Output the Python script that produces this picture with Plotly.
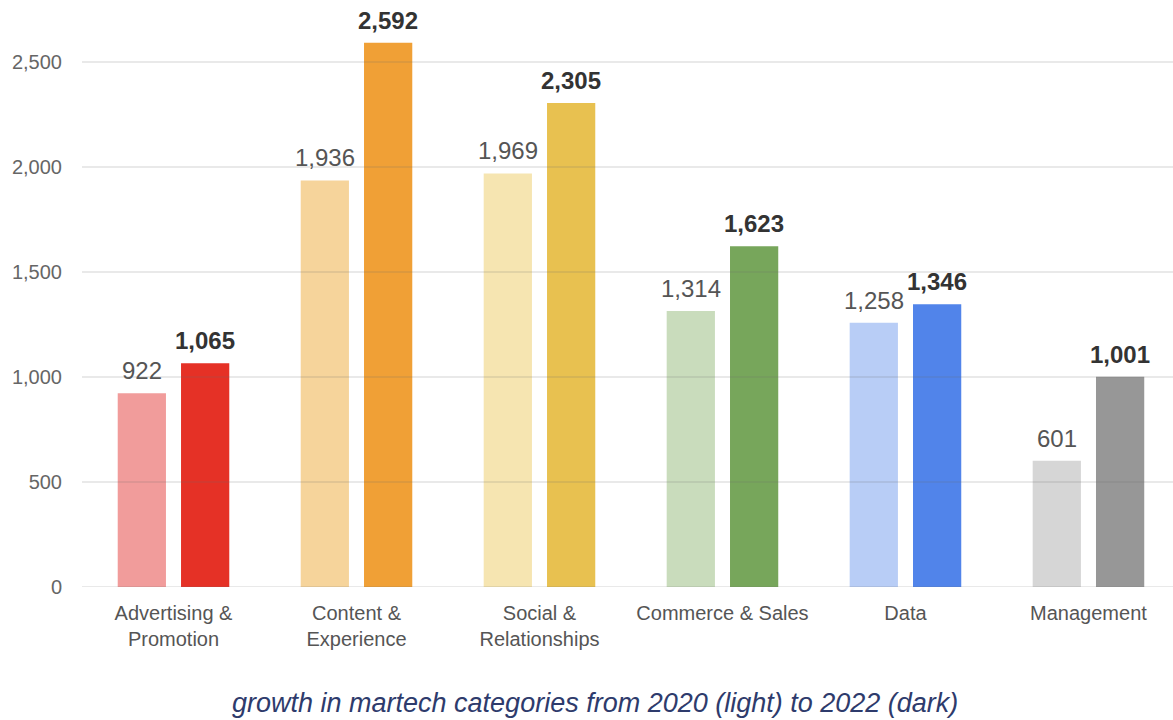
import plotly.graph_objects as go

categories = ["Advertising &<br>Promotion", "Content &<br>Experience", "Social &<br>Relationships",
              "Commerce & Sales", "Data", "Management"]
values_2020 = [922, 1936, 1969, 1314, 1258, 601]
values_2022 = [1065, 2592, 2305, 1623, 1346, 1001]
colors_2020 = ["#f19c9b", "#f6d49b", "#f6e5b1", "#c9dcbc", "#b8cdf6", "#d6d6d6"]
colors_2022 = ["#e53126", "#f0a036", "#e8c150", "#77a65b", "#5184ea", "#979797"]
y_ticks = [0, 500, 1000, 1500, 2000, 2500]
caption = "growth in martech categories from 2020 (light) to 2022 (dark)"

FONT = "Liberation Sans, Arial, sans-serif"
idx = list(range(len(categories)))
HALF = 31.5  # pixel offset of each bar centre from its category centre

fig = go.Figure()
fig.add_trace(go.Bar(x=idx, y=values_2020, marker=dict(color=colors_2020, line=dict(width=0))))
fig.add_trace(go.Bar(x=idx, y=values_2022, marker=dict(color=colors_2022, line=dict(width=0))))

# value labels above each bar
for i, v in enumerate(values_2020):
    fig.add_annotation(x=i, y=v, xshift=-HALF, yshift=7, text=f"{v:,}", showarrow=False,
                       xanchor="center", yanchor="bottom",
                       font=dict(family=FONT, size=24, color="#555555"))
for i, v in enumerate(values_2022):
    fig.add_annotation(x=i, y=v, xshift=HALF, yshift=7, text=f"<b>{v:,}</b>", showarrow=False,
                       xanchor="center", yanchor="bottom",
                       font=dict(family=FONT, size=24, color="#333333"))

# horizontal grid drawn over the bars, faint
for t in y_ticks:
    fig.add_shape(type="line", xref="paper", x0=0, x1=1, yref="y", y0=t, y1=t,
                  line=dict(color="rgba(110,110,110,0.2)", width=1.5), layer="above")

fig.update_layout(
    width=1173, height=720,
    margin=dict(l=82, r=0, t=0, b=133),
    paper_bgcolor="white", plot_bgcolor="white",
    barmode="group", bargap=0.308, bargroupgap=0.238,
    showlegend=False,
    font=dict(family=FONT),
)
fig.update_xaxes(
    tickmode="array", tickvals=idx, ticktext=categories,
    range=[-0.5, 5.462], showgrid=False, zeroline=False, showline=False,
    ticks="", ticklabelstandoff=12,
    tickfont=dict(family=FONT, size=20, color="#555555"),
)
fig.update_yaxes(
    range=[0, 2795], tickvals=y_ticks, ticktext=[f"{v:,}" for v in y_ticks],
    showgrid=False, zeroline=False, showline=False, ticks="", ticklabelstandoff=19,
    tickfont=dict(family=FONT, size=20, color="#666666"),
)
fig.add_annotation(
    text=caption, xref="paper", yref="paper", x=(595 - 82) / 1091, y=-(703 - 587) / 587,
    xanchor="center", yanchor="middle", showarrow=False,
    font=dict(family=FONT, size=27, color="#2e3b6c", style="italic"),
)

fig.write_html("out.html")
